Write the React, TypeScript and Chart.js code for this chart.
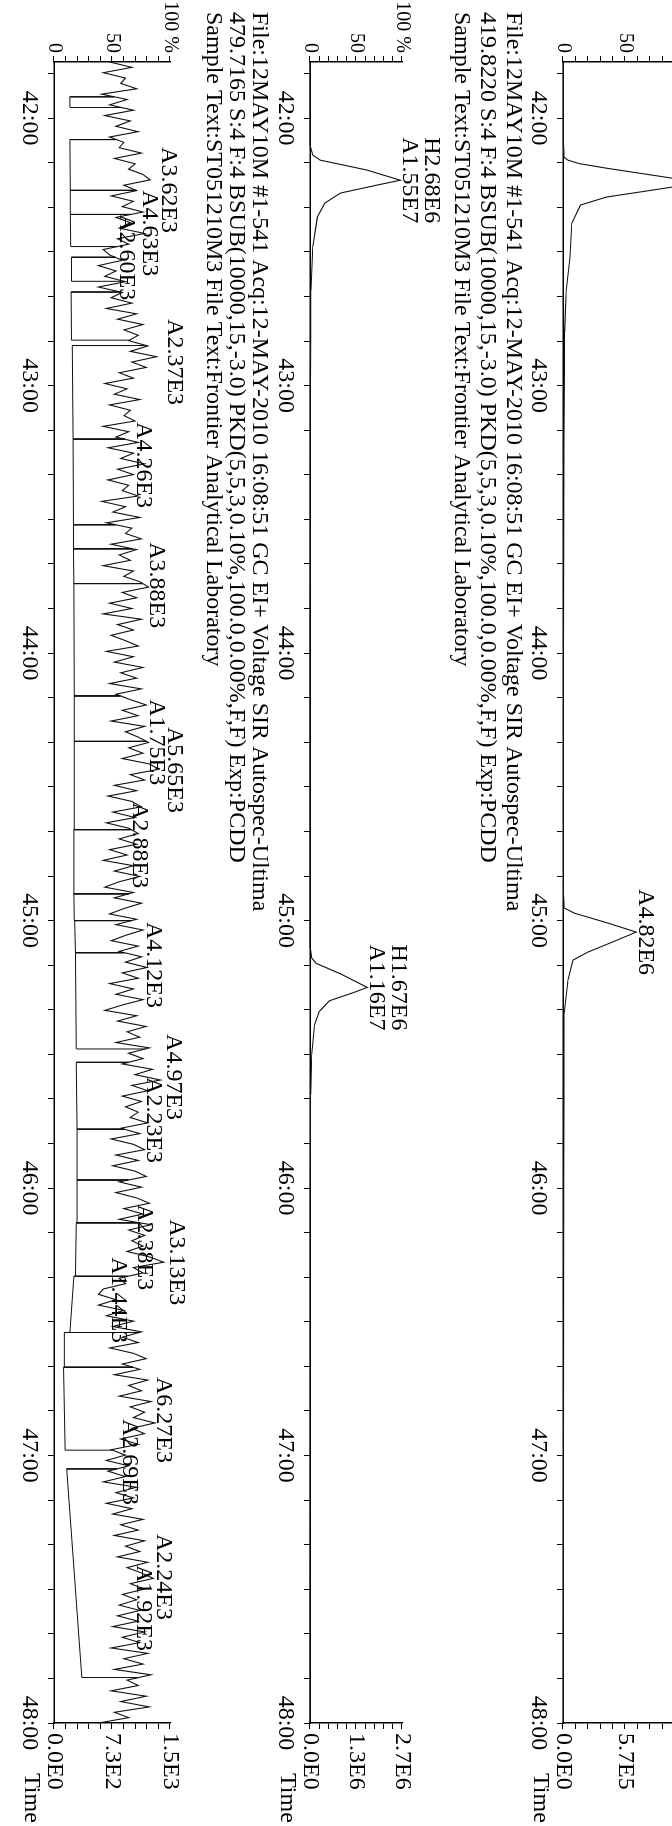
import React, { useEffect, useRef } from "react";
import { Chart, registerables } from "chart.js";
Chart.register(...registerables);

const FONT = "'Liberation Serif', 'DejaVu Serif', serif";
const FONT_SIZE = 24;
const PCT_FONT_SIZE = 20;

// ---------- shared axis data ----------
const T_MIN = 41.79;
const T_MAX = 48.0;
const TIME_LABEL_VALUES = [42, 43, 44, 45, 46, 47, 48];
const TIME_LABELS = ["42:00", "43:00", "44:00", "45:00", "46:00", "47:00", "48:00"];
const PCT_LABEL_VALUES = [0, 50, 100];
const PCT_LABELS = ["0", "50", "100 %"];

const HEADER_FILE = "File:12MAY10M #1-541 Acq:12-MAY-2010 16:08:51 GC EI+ Voltage SIR Autospec-Ultima";
const HEADER_SAMPLE = "Sample Text:ST051210M3 File Text:Frontier Analytical Laboratory";
const ION_B = "419.8220 S:4 F:4 BSUB(10000,15,-3.0) PKD(5,5,3,0.10%,100.0,0.00%,F,F) Exp:PCDD";
const ION_C = "479.7165 S:4 F:4 BSUB(10000,15,-3.0) PKD(5,5,3,0.10%,100.0,0.00%,F,F) Exp:PCDD";

// ---------- panel A (top trace, partly cut off) ----------
const A_FULL = 1.14e6;
const A_SCALE_LABELS = ["0.0E0", "5.7E5", "1.1E6"];
const A_TIME = [41.79, 42.1, 42.146, 42.157, 42.17, 42.187, 42.224, 42.241, 42.258, 42.295, 42.325, 42.393, 42.52, 42.643, 42.8, 43.2, 44.0, 44.9, 44.953, 44.972, 45.009, 45.043, 45.08, 45.118, 45.148, 45.222, 45.346, 46.0, 47.0, 48.0];
const A_VALUE = [3000, 3000, 10000, 45600, 150000, 399000, 1.0e6, 1.28e6, 1.0e6, 399000, 160000, 80000, 64000, 30000, 15000, 8000, 5000, 5000, 11400, 102600, 410000, 672600, 456000, 228000, 91000, 45600, 11400, 6000, 4000, 3000];
const A_PEAK_TIME = [45.043];
const A_PEAK_HEIGHT = [672600];
const A_PEAK_TEXT = [["A4.82E6"]];

// ---------- panel B (419.8220) ----------
const B_FULL = 2.68e6;
const B_SCALE_LABELS = ["0.0E0", "1.3E6", "2.7E6"];
const B_TIME = [41.79, 42.1, 42.138, 42.157, 42.175, 42.194, 42.232, 42.25, 42.28, 42.318, 42.37, 42.482, 42.643, 43.0, 44.0, 45.1, 45.14, 45.16, 45.2, 45.25, 45.27, 45.3, 45.34, 45.39, 45.5, 45.65, 46.0, 48.0];
const B_VALUE = [0, 2000, 80000, 295000, 965000, 1.66e6, 2.63e6, 1.96e6, 884000, 429000, 214000, 80000, 27000, 10000, 5000, 5000, 50000, 180000, 900000, 1.67e6, 1.25e6, 560000, 270000, 130000, 50000, 17000, 6000, 2000];
const B_PEAK_TIME = [42.232, 45.25];
const B_PEAK_HEIGHT = [2.63e6, 1.67e6];
const B_PEAK_TEXT = [["H2.68E6", "A1.55E7"], ["H1.67E6", "A1.16E7"]];

// ---------- panel C (479.7165, noise) ----------
const C_FULL = 1460;
const C_SCALE_LABELS = ["0.0E0", "7.3E2", "1.5E3"];
const C_SCAN_START = 41.79;
const C_SCAN_END = 48.0;
const C_NOISE = [
  700, 980, 620, 900, 840, 1040, 600, 920, 700, 1000, 640,
  960, 780, 1060, 700, 880, 820, 1100, 760, 1020, 940, 1120,
  1210,
  880, 1040, 720, 1000, 860, 1120, 780, 960, 820,
  1140,
  800, 940, 620, 700,
  860,
  560, 780, 640, 900, 560, 860, 720, 980, 660, 1040, 800, 1120, 880, 1060, 940, 1180, 960,
  1290,
  980, 1160, 820, 1000, 640, 920, 760, 1080, 700, 960, 880, 1020, 620, 940, 780, 1060, 680, 1000, 840,
  1140,
  800, 1000, 680, 940, 860, 1060, 600, 900, 740, 1080, 660, 980, 900, 1100, 720, 1040, 820, 960, 620, 1000, 880, 1080,
  1190,
  860, 1040, 700, 980, 620, 1100, 800, 1000, 720, 900, 1060, 660, 1000, 760, 1120, 840, 1040, 700, 1100, 780, 960, 1160, 860, 1060, 720, 1140, 900, 1060,
  1190,
  940, 1120, 860, 1200,
  1320,
  960, 1140, 760, 1040, 680, 980, 1100, 740, 1020, 660, 940, 1060, 820,
  1040,
  700, 920, 620, 1000, 760, 1080, 820, 640, 1000, 760, 1100, 880, 700, 1040, 780, 1120, 900, 720, 1060, 820, 1100, 900,
  1170,
  860, 1060, 700, 1000, 780, 1120, 860, 640, 1040, 800, 1160, 920, 1080, 780, 1200, 940, 1120, 860, 1240, 1020,
  1340,
  980, 1180, 860, 1100, 900, 1060, 960,
  1180,
  840, 1080, 720, 1000, 1140, 780, 1060, 740, 1020, 1160, 820, 1100, 780, 1040, 1200, 880, 1120, 820, 1220, 940, 1140, 980,
  1120,
  920, 1200,
  1380,
  1000, 1120, 820, 900, 620, 560,
  780,
  560, 880, 660, 1000, 740, 1100, 860, 1060, 700, 1000, 1160, 860, 1080, 760, 1180, 940, 1100, 820, 1220, 960, 1140, 1000,
  1270,
  980, 1140, 840, 1060, 720, 900, 660,
  940,
  680, 900, 620, 1040, 780, 1000, 660, 980, 740, 1120, 840, 1060, 760, 1140, 900, 1080, 800, 1180, 920, 1100,
  1250,
  960, 1140, 860, 1040, 820,
  1080,
  800, 1060, 740, 1140, 860, 1080, 720, 1180, 880, 1120, 760, 1220, 920, 1060, 720, 1160, 840, 1200, 760, 940, 560,
];
const C_BASE_FROM = [41.92, 42.08, 42.27, 42.36, 42.52, 42.65, 42.85, 43.2, 43.52, 43.61, 43.74, 44.16, 44.33, 44.66, 44.9, 45.0, 45.12, 45.53, 45.78, 45.97, 46.13, 46.33, 46.54, 46.67, 47.05];
const C_BASE_TO = [41.96, 42.27, 42.36, 42.48, 42.61, 42.83, 43.2, 43.52, 43.61, 43.74, 44.16, 44.33, 44.66, 44.9, 45.0, 45.12, 45.48, 45.78, 45.97, 46.13, 46.33, 46.54, 46.67, 46.98, 47.83];
const C_BASE_LEVEL_FROM = [200, 200, 205, 205, 220, 215, 230, 240, 245, 245, 250, 255, 255, 250, 250, 260, 270, 280, 290, 290, 280, 250, 130, 120, 160];
const C_BASE_LEVEL_TO = [200, 205, 205, 210, 220, 220, 240, 245, 245, 250, 255, 255, 255, 250, 255, 270, 280, 290, 290, 290, 270, 200, 130, 140, 350];
const C_PEAK_TIME = [42.269, 42.43, 42.52, 42.912, 43.297, 43.746, 44.437, 44.333, 44.718, 45.166, 45.585, 45.746, 46.277, 46.221, 46.419, 46.867, 47.024, 47.454, 47.57];
const C_PEAK_HEIGHT = [1321, 1080, 788, 1397, 1007, 1168, 1397, 1168, 956, 1133, 1384, 1133, 1422, 1019, 692, 1256, 832, 1256, 1007];
const C_PEAK_TEXT = ["A3.62E3", "A4.63E3", "A2.60E3", "A2.37E3", "A4.26E3", "A3.88E3", "A5.65E3", "A1.75E3", "A2.88E3", "A4.12E3", "A4.97E3", "A2.23E3", "A3.13E3", "A2.38E3", "A1.44E3", "A6.27E3", "A2.69E3", "A2.24E3", "A1.92E3"].map((s) => [s]);

// ---------- layout (unrotated frame: U along time, V across) ----------
const FRAME_W = 1826;
const FRAME_H = 672;
const CANVAS_TOP = -40;
const CANVAS_H = 712;
const LEFT_AXIS_W = 62;
const RIGHT_AXIS_W = 103;
const X_AXIS_H = 40;

type Pt = { x: number; y: number | null };
type Panel = {
  full: number;
  scaleLabels: string[];
  series: Pt[];
  baseline?: Pt[];
  peakTime: number[];
  peakHeight: number[];
  peakText: string[][];
  header?: string[];
  headerOffsets?: number[];
  areaTop: number;
  areaBottom: number;
};

function zip(t: number[], v: number[]): Pt[] {
  return t.map((x, i) => ({ x, y: v[i] }));
}

function noiseSeries(): Pt[] {
  const n = C_NOISE.length;
  const step = (C_SCAN_END - C_SCAN_START) / (n - 1);
  return C_NOISE.map((y, i) => ({ x: C_SCAN_START + i * step, y }));
}

function traceAt(series: Pt[], t: number) {
  for (let i = 1; i < series.length; i++) {
    const a = series[i - 1];
    const b = series[i];
    if (t >= a.x && t <= b.x) {
      const f = (t - a.x) / (b.x - a.x || 1);
      return (a.y as number) + f * ((b.y as number) - (a.y as number));
    }
  }
  return series[series.length - 1].y as number;
}

function baselineSeries(noise: Pt[]): Pt[] {
  const pts: Pt[] = [];
  C_BASE_FROM.forEach((f, i) => {
    const to = C_BASE_TO[i];
    pts.push({ x: f, y: traceAt(noise, f) });
    pts.push({ x: f, y: C_BASE_LEVEL_FROM[i] });
    pts.push({ x: to, y: C_BASE_LEVEL_TO[i] });
    pts.push({ x: to, y: traceAt(noise, to) });
    pts.push({ x: to, y: null });
  });
  return pts;
}

const noise = noiseSeries();

const PANELS: Panel[] = [
  {
    full: A_FULL,
    scaleLabels: A_SCALE_LABELS,
    series: zip(A_TIME, A_VALUE),
    peakTime: A_PEAK_TIME,
    peakHeight: A_PEAK_HEIGHT,
    peakText: A_PEAK_TEXT,
    areaTop: -15,
    areaBottom: 109,
  },
  {
    full: B_FULL,
    scaleLabels: B_SCALE_LABELS,
    series: zip(B_TIME, B_VALUE),
    peakTime: B_PEAK_TIME,
    peakHeight: B_PEAK_HEIGHT,
    peakText: B_PEAK_TEXT,
    header: [HEADER_FILE, ION_B, HEADER_SAMPLE],
    headerOffsets: [-111, -85, -59],
    areaTop: 270,
    areaBottom: 362,
  },
  {
    full: C_FULL,
    scaleLabels: C_SCALE_LABELS,
    series: noise,
    baseline: baselineSeries(noise),
    peakTime: C_PEAK_TIME,
    peakHeight: C_PEAK_HEIGHT,
    peakText: C_PEAK_TEXT,
    header: [HEADER_FILE, ION_C, HEADER_SAMPLE],
    headerOffsets: [-89, -66, -43],
    areaTop: 502,
    areaBottom: 618,
  },
];

function buildChart(canvas: HTMLCanvasElement, p: Panel) {
  const xTicks: number[] = [];
  for (let s = Math.ceil((T_MIN * 60) / 10) * 10; s <= T_MAX * 60 + 1e-6; s += 10) xTicks.push(s / 60);
  const tenths = Array.from({ length: 11 }, (_, k) => k);
  const font = { family: FONT, size: FONT_SIZE };

  const datasets: any[] = [
    { data: p.series, borderColor: "#111", borderWidth: 1.1, pointRadius: 0, tension: 0, clip: false, yAxisID: "yAbs" },
  ];
  if (p.baseline) {
    datasets.push({ data: p.baseline, borderColor: "#111", borderWidth: 1, pointRadius: 0, tension: 0, spanGaps: false, clip: false, yAxisID: "yAbs" });
  }

  const textPlugin = {
    id: "chromText",
    afterDraw(chart: any) {
      const { ctx, chartArea, scales } = chart;
      ctx.save();
      ctx.fillStyle = "#000";
      ctx.font = `${FONT_SIZE}px ${FONT}`;
      ctx.textAlign = "center";
      ctx.textBaseline = "alphabetic";
      p.peakTime.forEach((t, i) => {
        const x = scales.x.getPixelForValue(t);
        const y = scales.yAbs.getPixelForValue(p.peakHeight[i]) - 3;
        const lines = p.peakText[i];
        lines.forEach((txt, j) => ctx.fillText(txt, x, y - (lines.length - 1 - j) * 22));
      });
      if (p.header && p.headerOffsets) {
        ctx.textAlign = "left";
        ctx.textBaseline = "middle";
        p.header.forEach((txt, j) => ctx.fillText(txt, 12, chartArea.top + (p.headerOffsets as number[])[j]));
      }
      ctx.textAlign = "left";
      ctx.textBaseline = "middle";
      ctx.fillText("Time", chartArea.right + 50, chartArea.bottom + 23);
      ctx.restore();
    },
  };

  const axisCommon = {
    border: { display: true, color: "#000", width: 1.5 },
    grid: { display: true, drawOnChartArea: false, drawTicks: true, tickLength: 6, color: "#000", lineWidth: 1 },
  };

  return new Chart(canvas, {
    type: "line",
    data: { datasets },
    options: {
      animation: false,
      responsive: false,
      devicePixelRatio: 1,
      events: [],
      layout: {
        padding: {
          top: p.areaTop - CANVAS_TOP,
          bottom: CANVAS_H - (p.areaBottom - CANVAS_TOP) - X_AXIS_H,
          left: 0,
          right: 0,
        },
      },
      plugins: { legend: { display: false }, tooltip: { enabled: false } },
      scales: {
        x: {
          type: "linear",
          position: "bottom",
          min: T_MIN,
          max: T_MAX,
          ...axisCommon,
          ticks: {
            autoSkip: false,
            maxRotation: 0,
            minRotation: 0,
            padding: 4,
            color: "#000",
            font,
            callback: (v: any) => {
              const i = TIME_LABEL_VALUES.findIndex((m) => Math.abs(m - Number(v)) < 1e-4);
              return i >= 0 ? TIME_LABELS[i] : "";
            },
          },
          afterBuildTicks: (s: any) => {
            s.ticks = xTicks.map((value) => ({ value }));
          },
          afterFit: (s: any) => {
            s.height = X_AXIS_H;
          },
        },
        yPct: {
          type: "linear",
          position: "left",
          min: 0,
          max: 100,
          ...axisCommon,
          ticks: {
            autoSkip: false,
            padding: 3,
            color: "#000",
            font: { family: FONT, size: PCT_FONT_SIZE },
            callback: (v: any) => {
              const i = PCT_LABEL_VALUES.findIndex((m) => Math.abs(m - Number(v)) < 1e-6);
              return i >= 0 ? PCT_LABELS[i] : "";
            },
          },
          afterBuildTicks: (s: any) => {
            s.ticks = tenths.map((k) => ({ value: k * 10 }));
          },
          afterFit: (s: any) => {
            s.width = LEFT_AXIS_W;
          },
        },
        yAbs: {
          type: "linear",
          position: "right",
          min: 0,
          max: p.full,
          ...axisCommon,
          ticks: {
            autoSkip: false,
            padding: 4,
            color: "#000",
            font,
            callback: (_v: any, index: number) => {
              if (index === 0) return p.scaleLabels[0];
              if (index === 5) return p.scaleLabels[1];
              if (index === 10) return p.scaleLabels[2];
              return "";
            },
          },
          afterBuildTicks: (s: any) => {
            s.ticks = tenths.map((k) => ({ value: (p.full * k) / 10 }));
          },
          afterFit: (s: any) => {
            s.width = RIGHT_AXIS_W;
          },
        },
      },
    } as any,
    plugins: [textPlugin],
  });
}

export default function App() {
  const r0 = useRef<HTMLCanvasElement>(null);
  const r1 = useRef<HTMLCanvasElement>(null);
  const r2 = useRef<HTMLCanvasElement>(null);
  const refs = [r0, r1, r2];
  useEffect(() => {
    const charts = PANELS.map((p, i) => buildChart(refs[i].current as HTMLCanvasElement, p));
    return () => charts.forEach((c) => c.destroy());
  }, []);

  return (
    <div style={{ position: "absolute", left: 0, top: 0, width: 672, height: 1826, overflow: "hidden", background: "#fff" }}>
      <div
        style={{
          position: "absolute",
          left: 0,
          top: 0,
          width: FRAME_W,
          height: FRAME_H,
          transformOrigin: "0 0",
          transform: `translate(${FRAME_H}px, 0px) rotate(90deg)`,
        }}
      >
        {PANELS.map((_, i) => (
          <canvas
            key={i}
            ref={refs[i]}
            width={FRAME_W}
            height={CANVAS_H}
            style={{ position: "absolute", left: 0, top: CANVAS_TOP, width: FRAME_W, height: CANVAS_H }}
          />
        ))}
      </div>
    </div>
  );
}
